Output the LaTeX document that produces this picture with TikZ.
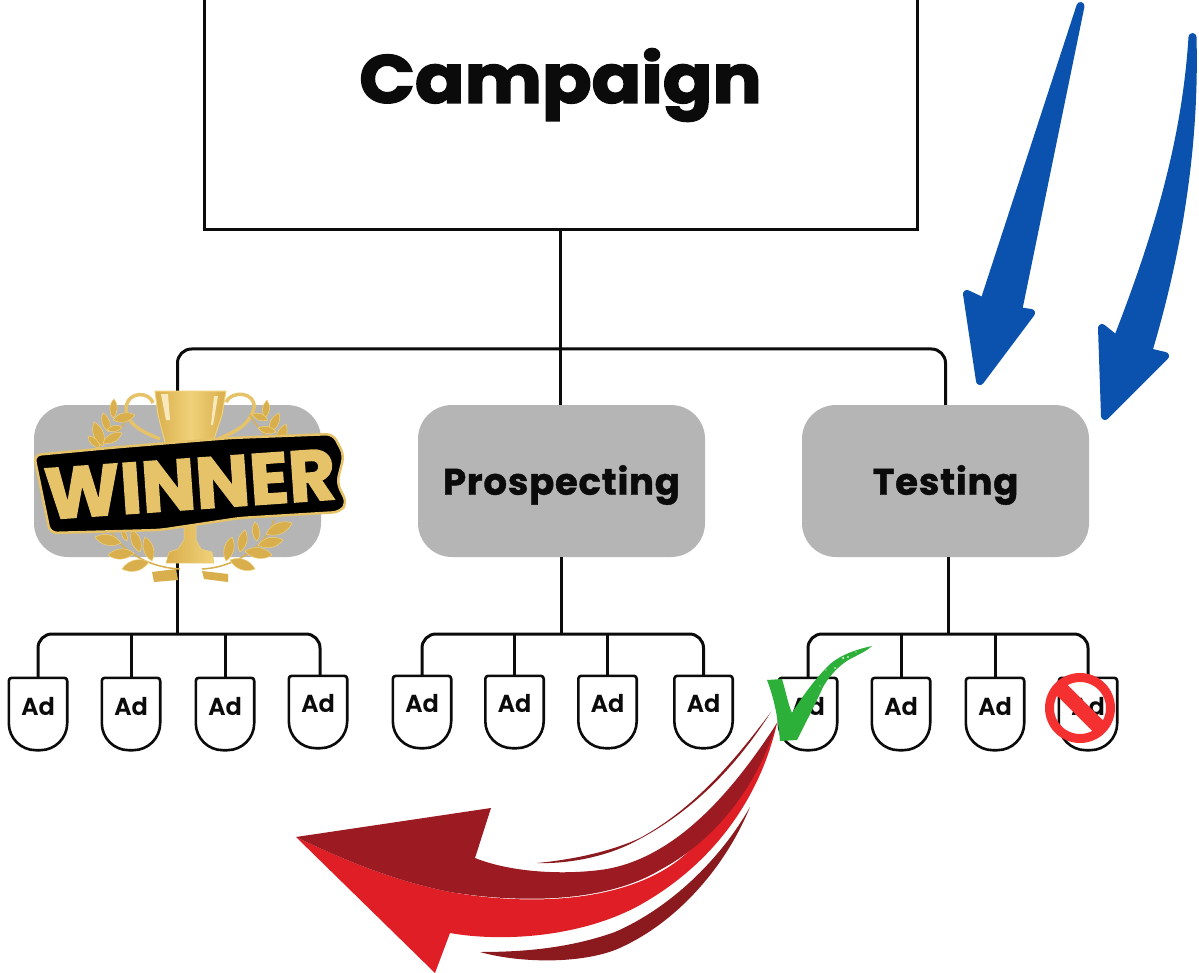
\documentclass[tikz,border=0pt]{standalone}
\usepackage{graphicx}
\usepackage{fontspec}
\setmainfont{Poppins}
\newfontfamily\heavyfont[FakeBold=2.2]{Poppins Bold}
\newfontfamily\headfont[FakeBold=1.0,LetterSpace=2]{Poppins Bold}
\newfontfamily\adfont[FakeBold=0.3]{Poppins SemiBold}
\usetikzlibrary{calc}
\definecolor{ink}{HTML}{0B0B0B}
\definecolor{boxgray}{HTML}{B5B5B5}
\definecolor{arrowblue}{HTML}{0A52AE}
\definecolor{reddark}{HTML}{9C1A22}
\definecolor{redbright}{HTML}{E01E26}
\definecolor{redstreak}{HTML}{8A1A1E}
\definecolor{checkgreen}{HTML}{2DB03A}
\definecolor{banred}{HTML}{F53030}
\definecolor{goldA}{HTML}{F0D27A}
\definecolor{goldB}{HTML}{D9AE4C}
\definecolor{goldC}{HTML}{E6C268}
\tikzset{
  conn/.style={draw=ink,line width=3pt},
  busline/.style={conn,rounded corners=14pt},
  catbox/.style={fill=boxgray,rounded corners=34pt,minimum width=287pt,minimum height=152pt,inner sep=0pt,text=ink,font=\headfont\fontsize{37}{40}\selectfont},
  adbox/.style={minimum width=58pt,minimum height=72pt,inner sep=0pt,text=ink,font=\adfont\fontsize{24}{26}\selectfont},
  adline/.style={draw=ink,line width=2.6pt,line join=round},
  bluearrow/.style={fill=arrowblue,draw=arrowblue,line width=8pt,line join=round},
  goldleaf/.style={fill=goldB,draw=goldA,line width=.5pt},
}
\newcommand{\adoutline}[1]{\draw[adline,rounded corners=3pt] (#1.north west) -- (#1.north east) [rounded corners=27pt] -- (#1.south east) -- (#1.south west) [rounded corners=3pt] -- cycle;}
\newcommand{\leaf}[4]{\path[goldleaf] (#1,#2) to[bend left=42] (#3,#4) to[bend left=42] (#1,#2) -- cycle;}
\newcommand{\shiftup}[2]{\raisebox{#1}[\height][\depth]{#2}}
\begin{document}
\begin{tikzpicture}[x=1pt,y=-1pt]
\clip (0,0) rectangle (1199,973);
\fill[white] (0,0) rectangle (1199,973);
% --- main boxes
\node[draw=ink,line width=3pt,minimum width=713pt,minimum height=290pt,inner sep=0pt,text=ink,font=\heavyfont\fontsize{68}{72}\selectfont] (camp) at (560.5,85) {\scalebox{1.075}[1]{Campaign}};
\node[catbox] (left) at (177.5,481) {};
\node[catbox] (mid) at (561.5,481) {\shiftup{-4pt}{Prospecting}};
\node[catbox] (right) at (945.5,481) {\shiftup{-4pt}{Testing}};
\coordinate (topbus) at (560.5,349);
\draw[conn] (camp.south) -- (camp.south |- mid.north);
\draw[busline] (left.north) |- (topbus) -| (right.north);
% --- ads
\foreach \n/\x/\y/\r in {a1/38/714/8,a2/131/714/8,a3/225/714/8,a4/318/712/9,
                         b1/422/712/9,b2/514.5/712/9,b3/607.5/712/9,b4/703.5/712/9,
                         c1/808/714/8,c2/901/714/8,c3/995/714/8,c4/1088/714/8}{
  \node[adbox] (\n) at (\x,\y) {\shiftup{\r pt}{Ad}};
  \adoutline{\n}
}
\coordinate (busA) at (178,634);
\coordinate (busB) at (561,634);
\coordinate (busC) at (948,634);
\draw[conn] (left.south) -- (left.south |- busA);
\draw[conn] (mid.south) -- (mid.south |- busB);
\draw[conn] (busC |- right.south) -- (busC);
\draw[busline] (a1.north) |- (busA) -| ([xshift=2pt]a4.north);
\draw[busline] (b1.north) |- (busB) -| (b4.north);
\draw[busline] (c1.north) |- (busC) -| (c4.north);
\foreach \n/\b in {a2/busA,a3/busA,b2/busB,b3/busB,c2/busC,c3/busC}{
  \draw[conn] (\n.north) -- (\n.north |- \b);
}
% --- blue arrows
\path[bluearrow] (1080.5,6) -- (1018,311) -- (1031,313) -- (980,381) -- (967,294) -- (984,302) -- cycle;
\path[bluearrow] (1192.5,37) .. controls (1195,130) and (1183,235) .. (1148,352) -- (1165,356) -- (1105,416) -- (1102,328) -- (1117,340) .. controls (1158,235) and (1186,140) .. (1192.5,37) -- cycle;
% --- red arrow
\fill[redstreak] (771,712) .. controls (735,768) and (690,815) .. (628,845) .. controls (600,858) and (565,864) .. (537,863) .. controls (570,860) and (610,852) .. (640,838) .. controls (695,808) and (735,760) .. (771,712) -- cycle;
\fill[redstreak] (750,807) .. controls (725,868) and (675,925) .. (615,950) .. controls (575,965) and (515,962) .. (480,952) .. controls (525,952) and (570,948) .. (615,932) .. controls (670,908) and (720,860) .. (750,807) -- cycle;
\fill[redbright] (296,837) .. controls (340,858) and (390,880) .. (450,892) .. controls (540,908) and (640,900) .. (690,850) .. controls (730,810) and (760,760) .. (777,723) .. controls (762,790) and (720,860) .. (640,905) .. controls (580,938) and (500,942) .. (450,933) -- (435,973) -- cycle;
\fill[reddark] (296,837) -- (491,808) -- (475,858) .. controls (510,872) and (560,875) .. (600,870) .. controls (680,860) and (740,780) .. (777,723) .. controls (755,790) and (715,840) .. (660,870) .. controls (610,900) and (530,905) .. (450,892) .. controls (390,880) and (340,858) .. (296,837) -- cycle;
% --- check mark
\fill[checkgreen] (767,680) -- (782,679) .. controls (786,692) and (788,704) .. (792,713) .. controls (805,692) and (818,676) .. (830,664) .. controls (842,654) and (858,649) .. (872,646) .. controls (868,650) and (860,654) .. (852,658) .. controls (840,664) and (830,675) .. (823,687) .. controls (815,705) and (806,722) .. (797,740) -- (780,741) .. controls (778,718) and (774,698) .. (767,680) -- cycle;
\fill[white] (843,658) circle (1pt) (848,657) circle (.8pt) (835,668) circle (.8pt) (826,670) circle (.7pt) (820,686) circle (.6pt) (856,652) circle (.7pt);
% --- prohibition sign
\draw[banred,line width=9pt] (1080,708) circle (30.5pt);
\draw[banred,line width=15pt] (1059,687) -- (1101,729);
% --- trophy
\draw[goldC,line width=3.5pt] (153,403) .. controls (150,392) and (128,390) .. (126,408) .. controls (126,425) and (145,433) .. (160,439);
\draw[goldC,line width=3.5pt] (226,402) .. controls (232,390) and (256,392) .. (254,408) .. controls (250,425) and (235,432) .. (218,439);
\draw[goldB,line width=1.2pt] (130,415) .. controls (120,432) and (110,440) .. (98,447);
\draw[goldB,line width=1.2pt] (250,415) .. controls (260,432) and (270,440) .. (278,447);
\leaf{114}{399}{113}{418}\leaf{103}{413}{109}{432}\leaf{94}{422}{103}{446}\leaf{88}{436}{100}{448}
\leaf{113}{420}{135}{415}\leaf{107}{430}{122}{427}\leaf{103}{443}{122}{433}
\leaf{267}{400}{265}{418}\leaf{279}{413}{270}{432}\leaf{286}{424}{277}{446}
\leaf{252}{414}{268}{420}\leaf{258}{428}{276}{432}
\shade[left color=goldB,right color=goldB,middle color=goldA,draw=goldA,line width=1pt] (155,391) -- (226,391) -- (222,415) -- (213,442) -- (166,446) -- (158,415) -- cycle;
\fill[goldA!50!white] (161,394) -- (168,394) -- (170,420) -- (166,420) -- cycle;
\fill[goldA!50!white] (214,396) -- (218,396) -- (213,425) -- (211,425) -- cycle;
\shade[left color=goldB,right color=goldA,draw=goldA,line width=.5pt] (184,520) -- (196,520) -- (196,540) -- (201,549) -- (212,552) -- (214,563) -- (166,563) -- (169,552) -- (178,549) -- (184,540) -- cycle;
\draw[goldB,line width=1.5pt] (110,530) .. controls (125,556) and (155,568) .. (180,569);
\draw[goldB,line width=1.5pt] (274,520) .. controls (265,550) and (230,568) .. (202,569);
\leaf{95}{537}{121}{543}\leaf{108}{555}{134}{553}\leaf{122}{569}{149}{562}
\leaf{122}{530}{127}{541}\leaf{132}{530}{140}{552}\leaf{145}{537}{152}{561}
\leaf{292}{523}{266}{534}\leaf{283}{540}{258}{545}\leaf{272}{555}{245}{551}\leaf{255}{569}{230}{560}
\leaf{255}{522}{257}{541}\leaf{245}{530}{240}{552}\leaf{232}{537}{226}{561}
\fill[goldB] (152,572) -- (176,569) -- (178,580) -- (154,582) -- cycle;
\fill[goldB] (202,571) -- (228,574) -- (228,582) -- (204,579) -- cycle;
% --- winner banner
\draw[goldC,line width=2.5pt,fill=black,rounded corners=7pt] (34,455) -- (120,447) -- (230,438) -- (333,434) -- (344,455) -- (337,483) -- (347,503) -- (340,512) -- (240,518) -- (160,530) -- (50,533) -- cycle;
\node[inner sep=0pt,rotate=4,text=goldC,font=\heavyfont\fontsize{72}{76}\selectfont] (winnertext) at (190,484) {WINNER};
\end{tikzpicture}
\end{document}
